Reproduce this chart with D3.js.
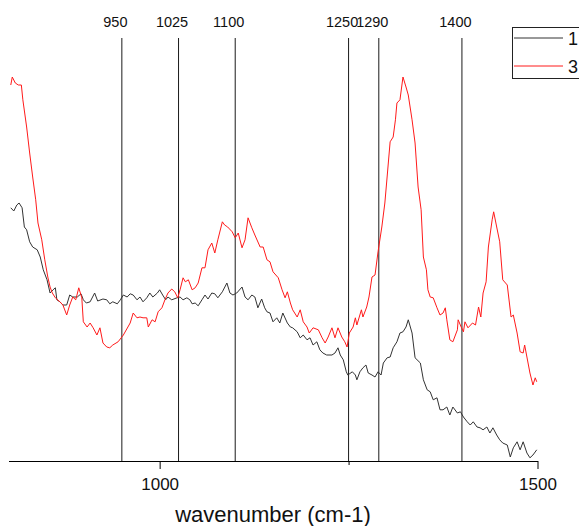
<!DOCTYPE html>
<html>
<head>
<meta charset="utf-8">
<script src="https://cdn.jsdelivr.net/npm/d3@7"></script>
<style>
  html, body { margin: 0; padding: 0; background: #fff; }
  svg { display: block; font-family: Arial, "Liberation Sans", sans-serif; }
</style>
</head>
<body>
<svg id="chart" width="579" height="526"></svg>
<script>
// wavenumber (cm-1) of each sampled point
const wave1 = [803,807,811,814,818,821,824,828,832,838,842,846,851,855,859,862,864,868,872,877,881,885,891,896,899,903,908,914,918,925,930,934,938,944,948,952,957,961,965,970,974,978,983,987,991,997,1000,1004,1008,1011,1016,1023,1027,1031,1036,1040,1043,1047,1051,1056,1060,1064,1069,1073,1077,1083,1089,1093,1097,1102,1109,1113,1117,1122,1126,1130,1135,1139,1142,1146,1150,1155,1159,1163,1169,1173,1176,1182,1186,1190,1195,1199,1203,1208,1212,1216,1221,1228,1232,1236,1239,1243,1247,1249,1255,1259,1261,1265,1269,1273,1276,1281,1285,1289,1293,1296,1301,1305,1309,1314,1318,1322,1326,1329,1334,1338,1345,1349,1354,1358,1362,1367,1371,1375,1380,1384,1388,1394,1398,1402,1407,1411,1415,1420,1424,1428,1433,1437,1441,1446,1450,1454,1460,1464,1468,1473,1477,1481,1486,1490,1494,1499];
// series "1" absorbance (a.u.)
const series1 = [0.633,0.625,0.640,0.645,0.633,0.585,0.578,0.548,0.535,0.528,0.510,0.478,0.453,0.420,0.428,0.433,0.403,0.398,0.390,0.390,0.415,0.410,0.410,0.418,0.403,0.395,0.398,0.420,0.400,0.405,0.403,0.393,0.398,0.393,0.403,0.415,0.410,0.418,0.415,0.403,0.410,0.398,0.408,0.420,0.410,0.420,0.428,0.415,0.403,0.410,0.403,0.408,0.410,0.403,0.408,0.403,0.393,0.395,0.388,0.403,0.415,0.405,0.420,0.418,0.408,0.423,0.445,0.420,0.415,0.420,0.435,0.410,0.403,0.415,0.410,0.383,0.405,0.383,0.373,0.370,0.348,0.358,0.345,0.370,0.345,0.335,0.333,0.323,0.308,0.315,0.303,0.308,0.290,0.298,0.278,0.270,0.265,0.265,0.270,0.283,0.265,0.253,0.223,0.215,0.223,0.215,0.203,0.223,0.233,0.240,0.220,0.215,0.210,0.223,0.215,0.245,0.258,0.260,0.283,0.298,0.320,0.323,0.335,0.353,0.320,0.258,0.245,0.203,0.178,0.173,0.153,0.158,0.128,0.128,0.135,0.115,0.135,0.120,0.123,0.110,0.098,0.090,0.098,0.085,0.083,0.078,0.085,0.070,0.083,0.065,0.053,0.045,0.040,0.010,0.033,0.048,0.028,0.048,0.020,0.008,0.015,0.028];

const wave3 = [803,805,809,813,817,819,824,828,832,836,839,844,848,852,855,858,862,868,872,877,881,885,889,893,897,899,904,908,912,917,921,925,930,934,938,945,952,961,965,970,974,978,983,985,990,994,998,1003,1007,1011,1016,1020,1024,1027,1031,1034,1038,1043,1047,1051,1056,1060,1064,1069,1073,1077,1083,1086,1090,1096,1100,1104,1109,1113,1117,1122,1126,1133,1137,1142,1146,1150,1157,1162,1166,1169,1173,1176,1182,1186,1190,1195,1198,1203,1210,1215,1219,1223,1228,1232,1236,1241,1245,1248,1251,1256,1259,1261,1267,1269,1274,1277,1281,1285,1289,1294,1298,1301,1305,1309,1312,1314,1318,1322,1326,1329,1334,1338,1342,1346,1349,1353,1355,1358,1362,1367,1371,1375,1378,1380,1384,1388,1394,1395,1399,1402,1404,1408,1414,1418,1422,1425,1428,1432,1435,1440,1442,1446,1450,1454,1460,1465,1468,1473,1477,1481,1483,1486,1490,1494,1497,1499];
// series "3" absorbance (a.u.)
const series3 = [0.940,0.960,0.945,0.940,0.940,0.903,0.835,0.770,0.710,0.653,0.595,0.553,0.503,0.460,0.435,0.420,0.408,0.398,0.390,0.365,0.390,0.410,0.403,0.433,0.408,0.348,0.335,0.345,0.333,0.315,0.333,0.295,0.285,0.283,0.290,0.298,0.315,0.345,0.370,0.358,0.360,0.358,0.358,0.335,0.353,0.348,0.373,0.383,0.403,0.420,0.430,0.423,0.408,0.428,0.458,0.448,0.453,0.428,0.433,0.445,0.483,0.483,0.528,0.545,0.520,0.553,0.598,0.590,0.585,0.573,0.558,0.570,0.533,0.553,0.608,0.583,0.565,0.535,0.535,0.503,0.498,0.473,0.458,0.428,0.408,0.423,0.395,0.378,0.360,0.378,0.348,0.335,0.320,0.333,0.328,0.308,0.295,0.310,0.333,0.308,0.333,0.310,0.298,0.285,0.320,0.335,0.358,0.340,0.378,0.360,0.385,0.410,0.460,0.465,0.523,0.585,0.645,0.710,0.798,0.810,0.853,0.895,0.903,0.960,0.935,0.915,0.853,0.795,0.685,0.628,0.510,0.478,0.428,0.410,0.408,0.383,0.365,0.370,0.383,0.353,0.303,0.298,0.328,0.353,0.335,0.323,0.348,0.333,0.345,0.340,0.385,0.360,0.420,0.448,0.535,0.603,0.623,0.585,0.548,0.453,0.440,0.360,0.365,0.320,0.273,0.270,0.290,0.260,0.220,0.190,0.208,0.198];

const markers = [950, 1025, 1100, 1250, 1290, 1400];
const markerLabels = ["950", "1025", "1100", "1250", "1290", "1400"];
const xTicks = [1000, 1250, 1500];
const xTickLabels = ["1000", "", "1500"];
const legendNames = ["1", "3"];
const seriesColors = ["#333333", "#ff1a1a"];
const xTitle = "wavenumber (cm-1)";

const svg = d3.select("#chart");
const x = d3.scaleLinear().domain([800, 1500]).range([8.5, 537.5]);
const y = d3.scaleLinear().domain([0, 1]).range([461, 61]);

// data series
const data = [
  wave1.map((w, i) => [w, series1[i]]),
  wave3.map((w, i) => [w, series3[i]])
];
const line = d3.line().x(d => x(d[0])).y(d => y(d[1]));

// marker lines
svg.append("g").selectAll("line").data(markers).join("line")
  .attr("x1", d => x(d)).attr("x2", d => x(d))
  .attr("y1", 38).attr("y2", y(0))
  .attr("stroke", "#1a1a1a").attr("stroke-width", 1);

svg.append("g").selectAll("text").data(markers).join("text")
  .attr("x", d => x(d) - 6.5).attr("y", 27)
  .attr("text-anchor", "middle")
  .attr("font-size", "14.5px").attr("fill", "#111")
  .text((d, i) => markerLabels[i]);

// curves
svg.append("g").selectAll("path").data(data).join("path")
  .attr("d", line)
  .attr("fill", "none")
  .attr("stroke", (d, i) => seriesColors[i])
  .attr("stroke-width", 1)
  .attr("stroke-linejoin", "round");

// x axis
const axis = d3.axisBottom(x)
  .tickValues(xTicks)
  .tickFormat((d, i) => xTickLabels[i])
  .tickSizeInner(8)
  .tickSizeOuter(0)
  .tickPadding(4);
const gx = svg.append("g").attr("transform", `translate(0,${y(0)})`).call(axis);
gx.select(".domain").attr("stroke", "#000").attr("stroke-width", 1.2);
gx.selectAll(".tick line").attr("stroke", "#000")
  .attr("y2", (d, i) => xTickLabels[i] === "" ? 4 : 8);
gx.selectAll(".tick text").attr("font-size", "17px").attr("fill", "#111")
  .attr("font-family", "Arial, 'Liberation Sans', sans-serif")
  .attr("dy", null).attr("y", 29);

svg.append("text")
  .attr("x", (x.range()[0] + x.range()[1]) / 2).attr("y", 522)
  .attr("text-anchor", "middle")
  .attr("font-size", "22px").attr("fill", "#111")
  .text(xTitle);

// legend
const lg = svg.append("g");
lg.append("rect").attr("x", 512.5).attr("y", 27.5).attr("width", 80).attr("height", 51)
  .attr("fill", "#fff").attr("stroke", "#222").attr("stroke-width", 1);
legendNames.forEach((n, i) => {
  const ly = 38 + i * 28;
  lg.append("line").attr("x1", 514).attr("x2", 563).attr("y1", ly).attr("y2", ly)
    .attr("stroke", seriesColors[i]).attr("stroke-width", 1);
  lg.append("text").attr("x", 568).attr("y", ly + 7)
    .attr("font-size", "18px").attr("fill", "#111").text(n);
});
</script>
</body>
</html>
